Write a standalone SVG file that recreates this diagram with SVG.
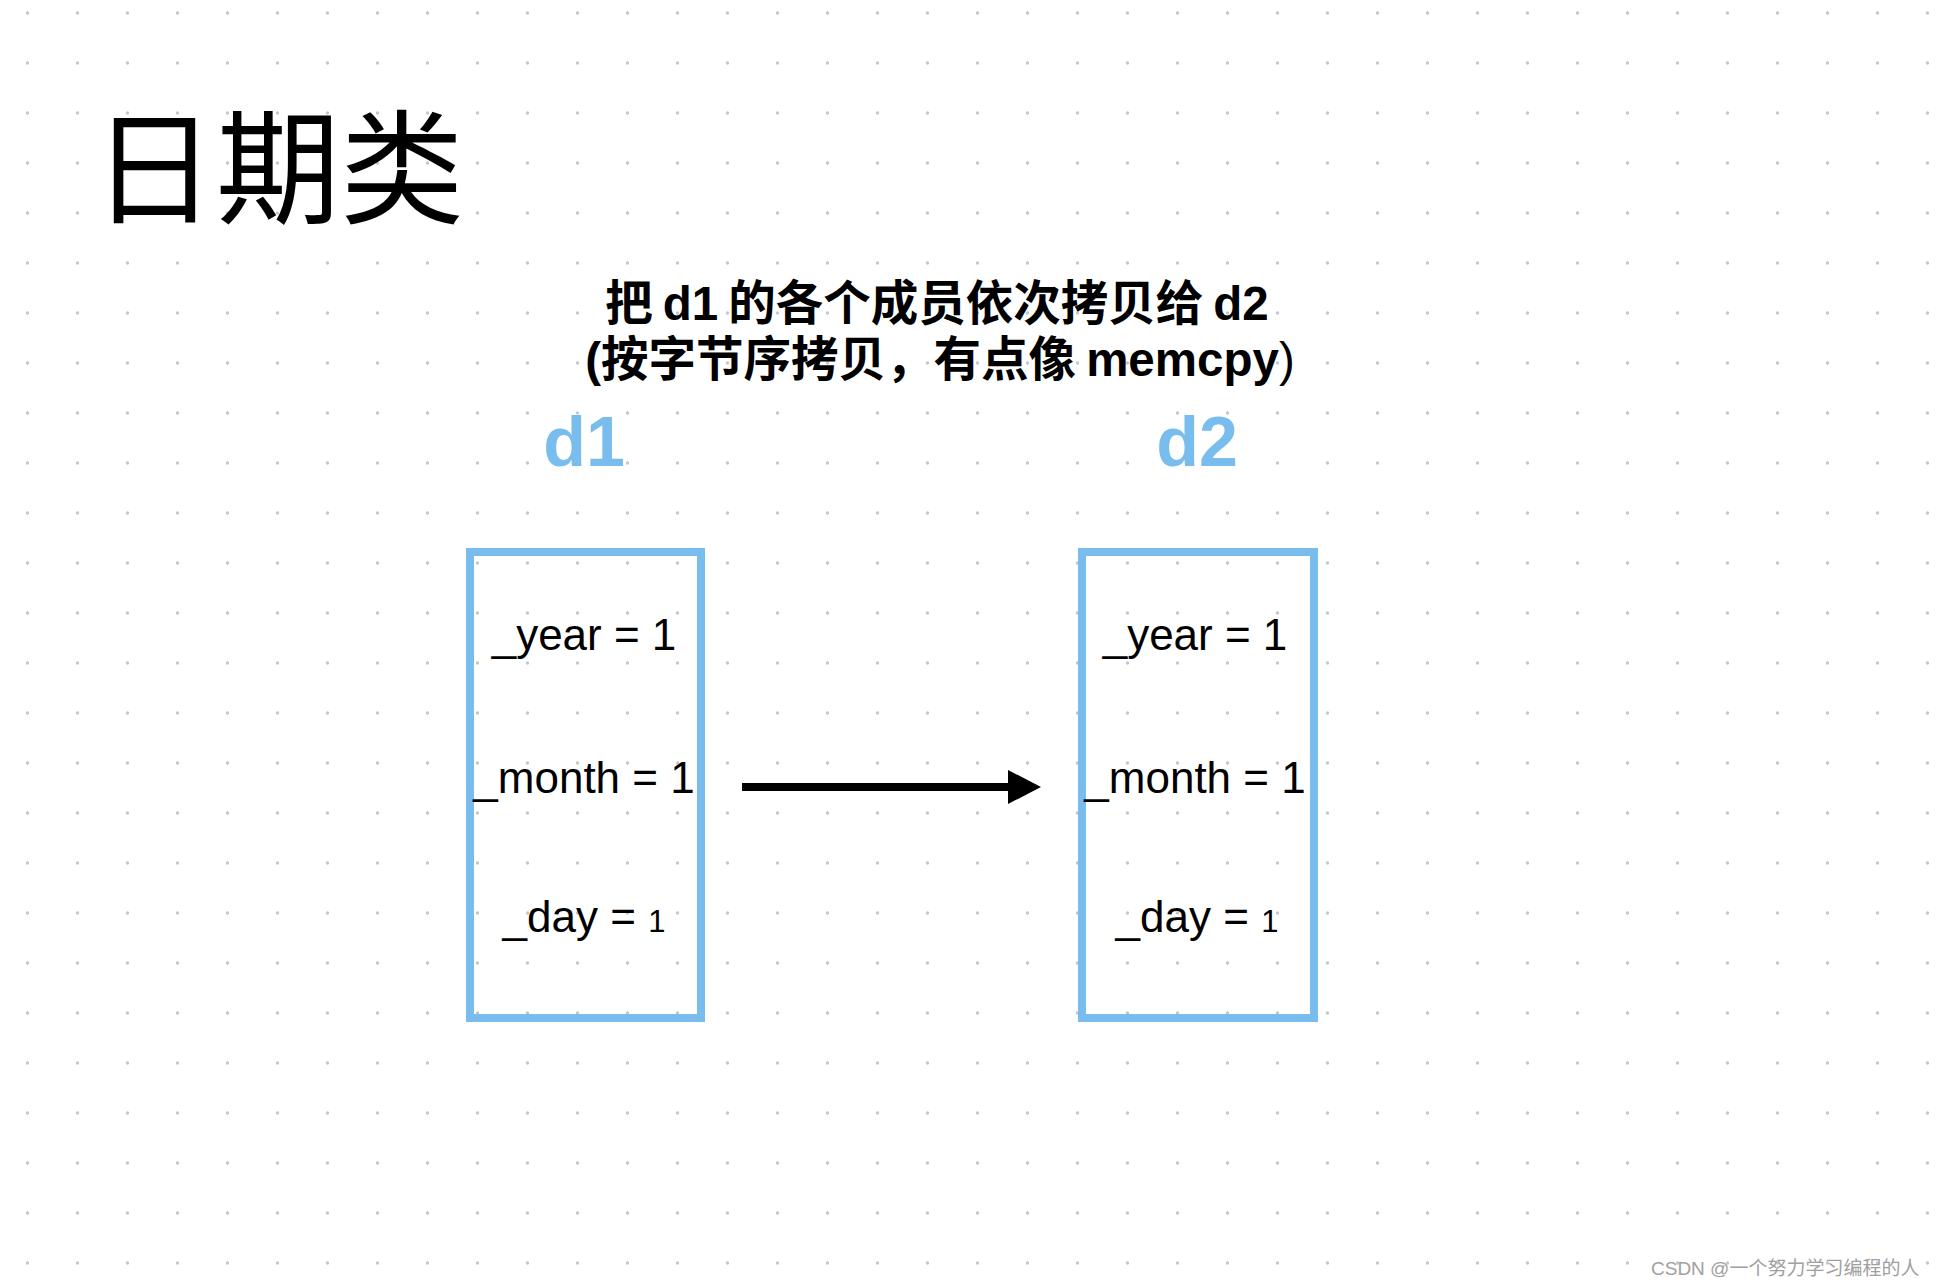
<svg xmlns="http://www.w3.org/2000/svg" width="1938" height="1288" viewBox="0 0 1938 1288">
  <defs>
    <pattern id="dots" x="0" y="0" width="50" height="50" patternUnits="userSpaceOnUse">
      <circle cx="27.5" cy="13" r="1.7" fill="#c6c6c6"/>
    </pattern>
    <marker id="arrow" markerUnits="userSpaceOnUse" markerWidth="40" markerHeight="40" refX="2" refY="17" orient="auto" viewBox="0 0 40 40">
      <path d="M0,0 L33,17 L0,34 Z" fill="#000"/>
    </marker>
    <style>
      .title { font-family: "Noto Sans CJK SC", sans-serif; font-size: 124px; fill: #000; }
      .sub { font-family: "Liberation Sans", "Noto Sans CJK SC", sans-serif; font-weight: bold; font-size: 47.5px; fill: #000; text-anchor: middle; }
      .thin { font-weight: normal; }
      .name { font-family: "Liberation Sans", "Noto Sans CJK SC", sans-serif; font-weight: bold; font-size: 70px; fill: #78bdee; text-anchor: middle; }
      .box { fill: none; stroke: #78bdee; stroke-width: 8; }
      .field { font-family: "Liberation Sans", "Noto Sans CJK SC", sans-serif; font-size: 44px; fill: #000; text-anchor: middle; }
      .small { font-size: 31px; }
      .edge { stroke: #000; stroke-width: 8; fill: none; }
      .wm { font-family: "Liberation Sans", "Noto Sans CJK SC", sans-serif; font-size: 19px; fill: #a0a0a0; }
    </style>
  </defs>
  <rect x="0" y="0" width="1938" height="1288" fill="#fff"/>
  <rect x="0" y="0" width="1938" height="1288" fill="url(#dots)"/>

  <g id="title">
    <text class="title" x="92" y="214">日期类</text>
  </g>
  <g id="caption">
    <text class="sub" x="937" y="320">把<tspan dx="10">d1</tspan><tspan dx="10">的各个成员依次拷贝给</tspan><tspan dx="10">d2</tspan></text>
    <text class="sub" x="940" y="376">(按字节序拷贝，有点像<tspan dx="10">memcpy</tspan><tspan class="thin">)</tspan></text>
  </g>

  <g id="d1">
    <text class="name" x="584" y="466">d1</text>
    <rect class="box" x="470" y="552" width="231" height="466"/>
    <text class="field" x="584" y="650">_year = 1</text>
    <text class="field" x="584" y="793">_month = 1</text>
    <text class="field" x="584" y="932">_day = <tspan class="small">1</tspan></text>
  </g>

  <g id="d2">
    <text class="name" x="1197" y="466">d2</text>
    <rect class="box" x="1082" y="552" width="232" height="466"/>
    <text class="field" x="1195" y="650">_year = 1</text>
    <text class="field" x="1195" y="793">_month = 1</text>
    <text class="field" x="1197" y="932">_day = <tspan class="small">1</tspan></text>
  </g>

  <g id="connectors">
    <line class="edge" x1="742" y1="787" x2="1010" y2="787" marker-end="url(#arrow)"/>
  </g>

  <g id="watermark">
    <text class="wm" x="1651" y="1275">CSDN @一个努力学习编程的人</text>
  </g>
</svg>
